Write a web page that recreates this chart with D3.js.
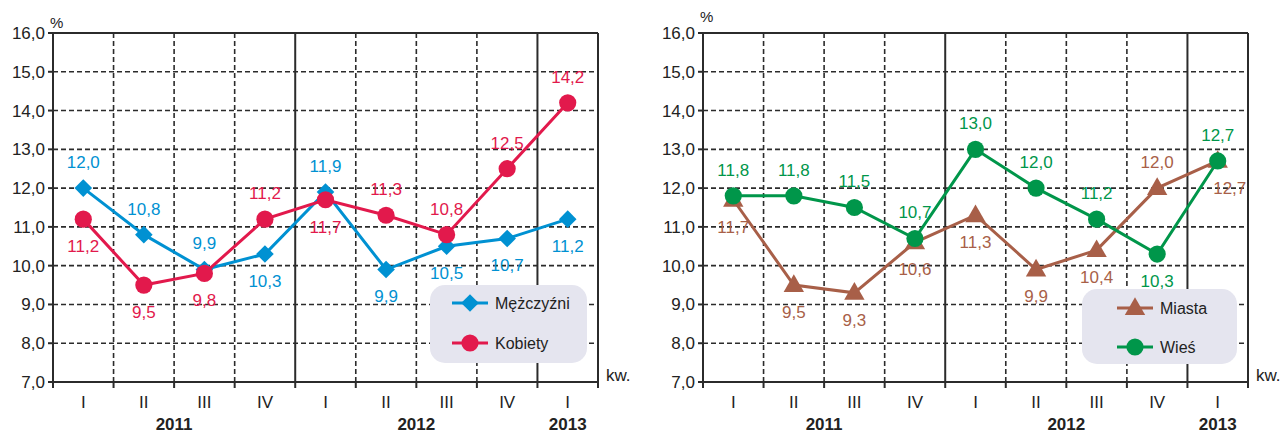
<!DOCTYPE html>
<html>
<head>
<meta charset="utf-8">
<script src="https://cdn.jsdelivr.net/npm/d3@7"></script>
<style>
  html, body { margin: 0; padding: 0; background: #fff; }
  svg { display: block; font-family: "Liberation Sans", Arial, sans-serif; }
</style>
</head>
<body>
<svg id="chart" width="1287" height="434"></svg>
<script>
// ---- data ----
const quarters = ["I", "II", "III", "IV", "I", "II", "III", "IV", "I"];
const years = ["2011", "2012", "2013"];
const yearSpans = [[0, 4], [4, 8], [8, 9]];
const yTicks = [7, 8, 9, 10, 11, 12, 13, 14, 15, 16];

const menName = "Mężczyźni";
const menValues = [12.0, 10.8, 9.9, 10.3, 11.9, 9.9, 10.5, 10.7, 11.2];
const menLabelPos = ["a", "a", "a", "b", "a", "b", "b", "b", "b"];

const womenName = "Kobiety";
const womenValues = [11.2, 9.5, 9.8, 11.2, 11.7, 11.3, 10.8, 12.5, 14.2];
const womenLabelPos = ["b", "b", "b", "a", "b", "a", "a", "a", "a"];

const cityName = "Miasta";
const cityValues = [11.7, 9.5, 9.3, 10.6, 11.3, 9.9, 10.4, 12.0, 12.7];
const cityLabelPos = ["b", "b", "b", "b", "b", "b", "b", "a", "br"];

const ruralName = "Wieś";
const ruralValues = [11.8, 11.8, 11.5, 10.7, 13.0, 12.0, 11.2, 10.3, 12.7];
const ruralLabelPos = ["a", "a", "a", "a", "a", "a", "a", "b", "a"];

// ---- styles ----
const C = { blue: "#0091d2", red: "#e2194c", brown: "#a85f48", green: "#00964a", grid: "#2b2b2b", text: "#222" };
const svg = d3.select("#chart");
const fmt = v => d3.format(".1f")(v).replace(".", ",");

function marker(g, type, x, y, color) {
  if (type === "diamond") {
    const s = 8.8;
    g.append("path").attr("d", `M${x},${y - s}L${x + s},${y}L${x},${y + s}L${x - s},${y}Z`).attr("fill", color);
  } else if (type === "circle") {
    g.append("circle").attr("cx", x).attr("cy", y).attr("r", 8.6).attr("fill", color);
  } else {
    g.append("path").attr("transform", `translate(${x},${y + 1})`)
      .attr("d", d3.symbol().type(d3.symbolTriangle).size(180)()).attr("fill", color);
  }
}

function drawPanel(opt) {
  const x0 = opt.x0, x1 = opt.x0 + 545, yTop = 33, yBot = 382;
  const x = d3.scaleBand().domain(d3.range(quarters.length)).range([x0, x1]).padding(0);
  const y = d3.scaleLinear().domain([7, 16]).range([yBot, yTop]);
  const g = svg.append("g");
  const cx = i => x(i) + x.bandwidth() / 2;

  // horizontal grid
  yTicks.forEach(t => {
    const solid = t === 7 || t === 16;
    g.append("line").attr("x1", x0).attr("x2", x1).attr("y1", y(t)).attr("y2", y(t))
      .attr("stroke", C.grid).attr("stroke-width", solid ? 2 : 1.6)
      .attr("stroke-dasharray", solid ? null : "5,3");
    g.append("line").attr("x1", x0 - 5).attr("x2", x0).attr("y1", y(t)).attr("y2", y(t))
      .attr("stroke", C.grid).attr("stroke-width", 2);
    g.append("text").attr("x", x0 - 8).attr("y", y(t)).attr("dy", "0.35em")
      .attr("text-anchor", "end").attr("font-size", 17).attr("fill", C.text).text(fmt(t));
  });
  // vertical grid
  for (let i = 0; i <= quarters.length; i++) {
    const xv = i < quarters.length ? x(i) : x1;
    const solid = i === 0 || i === 4 || i === 8 || i === quarters.length;
    g.append("line").attr("x1", xv).attr("x2", xv).attr("y1", yTop).attr("y2", yBot)
      .attr("stroke", C.grid).attr("stroke-width", solid ? 2 : 1.6)
      .attr("stroke-dasharray", solid ? null : "5,3");
    g.append("line").attr("x1", xv).attr("x2", xv).attr("y1", yBot).attr("y2", yBot + 6)
      .attr("stroke", C.grid).attr("stroke-width", 2);
  }
  // x labels
  quarters.forEach((q, i) => {
    g.append("text").attr("x", cx(i)).attr("y", 408).attr("text-anchor", "middle")
      .attr("font-size", 17).attr("fill", C.text).text(q);
  });
  years.forEach((yr, k) => {
    const [a, b] = yearSpans[k];
    const xm = (x(a) + (b < quarters.length ? x(b) : x1)) / 2;
    g.append("text").attr("x", xm).attr("y", 430).attr("text-anchor", "middle")
      .attr("font-size", 17).attr("font-weight", "bold").attr("fill", C.text).text(yr);
  });
  g.append("text").attr("x", x0 - 3).attr("y", opt.pctY).attr("font-size", 15).attr("fill", C.text).text("%");
  g.append("text").attr("x", x1 + 8).attr("y", 381).attr("font-size", 17).attr("fill", C.text).text("kw.");

  // series
  opt.series.forEach(s => {
    const line = d3.line().x((d, i) => cx(i)).y(d => y(d));
    g.append("path").datum(s.values).attr("d", line).attr("fill", "none")
      .attr("stroke", s.color).attr("stroke-width", 3);
    s.values.forEach((v, i) => marker(g, s.marker, cx(i), y(v), s.color));
  });
  opt.series.forEach(s => {
    s.values.forEach((v, i) => {
      const p = s.pos[i];
      const dx = p === "br" ? 12 : 0;
      const dy = p === "a" ? -26 : 27;
      g.append("text").attr("x", cx(i) + dx).attr("y", y(v) + dy).attr("dy", "0.35em")
        .attr("text-anchor", "middle").attr("font-size", 17).attr("fill", s.color).text(fmt(v));
    });
  });

  // legend
  const L = opt.legend;
  g.append("rect").attr("x", L.x).attr("y", L.y).attr("width", L.w).attr("height", L.h)
    .attr("rx", 15).attr("fill", "#e5e5ef");
  opt.series.forEach((s, k) => {
    const ly = L.y + L.first + k * L.step;
    g.append("line").attr("x1", L.lx).attr("x2", L.lx + 36).attr("y1", ly).attr("y2", ly)
      .attr("stroke", s.color).attr("stroke-width", 3);
    marker(g, s.marker, L.lx + 18, ly, s.color);
    g.append("text").attr("x", L.lx + 43).attr("y", ly).attr("dy", "0.35em")
      .attr("font-size", 16).attr("fill", C.text).text(s.name);
  });
}

drawPanel({
  x0: 53, pctY: 28,
  series: [
    { name: menName, values: menValues, pos: menLabelPos, color: C.blue, marker: "diamond" },
    { name: womenName, values: womenValues, pos: womenLabelPos, color: C.red, marker: "circle" }
  ],
  legend: { x: 430, y: 285, w: 157, h: 78, first: 18, step: 40, lx: 452 }
});
drawPanel({
  x0: 703, pctY: 22,
  series: [
    { name: cityName, values: cityValues, pos: cityLabelPos, color: C.brown, marker: "triangle" },
    { name: ruralName, values: ruralValues, pos: ruralLabelPos, color: C.green, marker: "circle" }
  ],
  legend: { x: 1082, y: 289, w: 155, h: 75, first: 19, step: 39, lx: 1117 }
});
</script>
</body>
</html>
